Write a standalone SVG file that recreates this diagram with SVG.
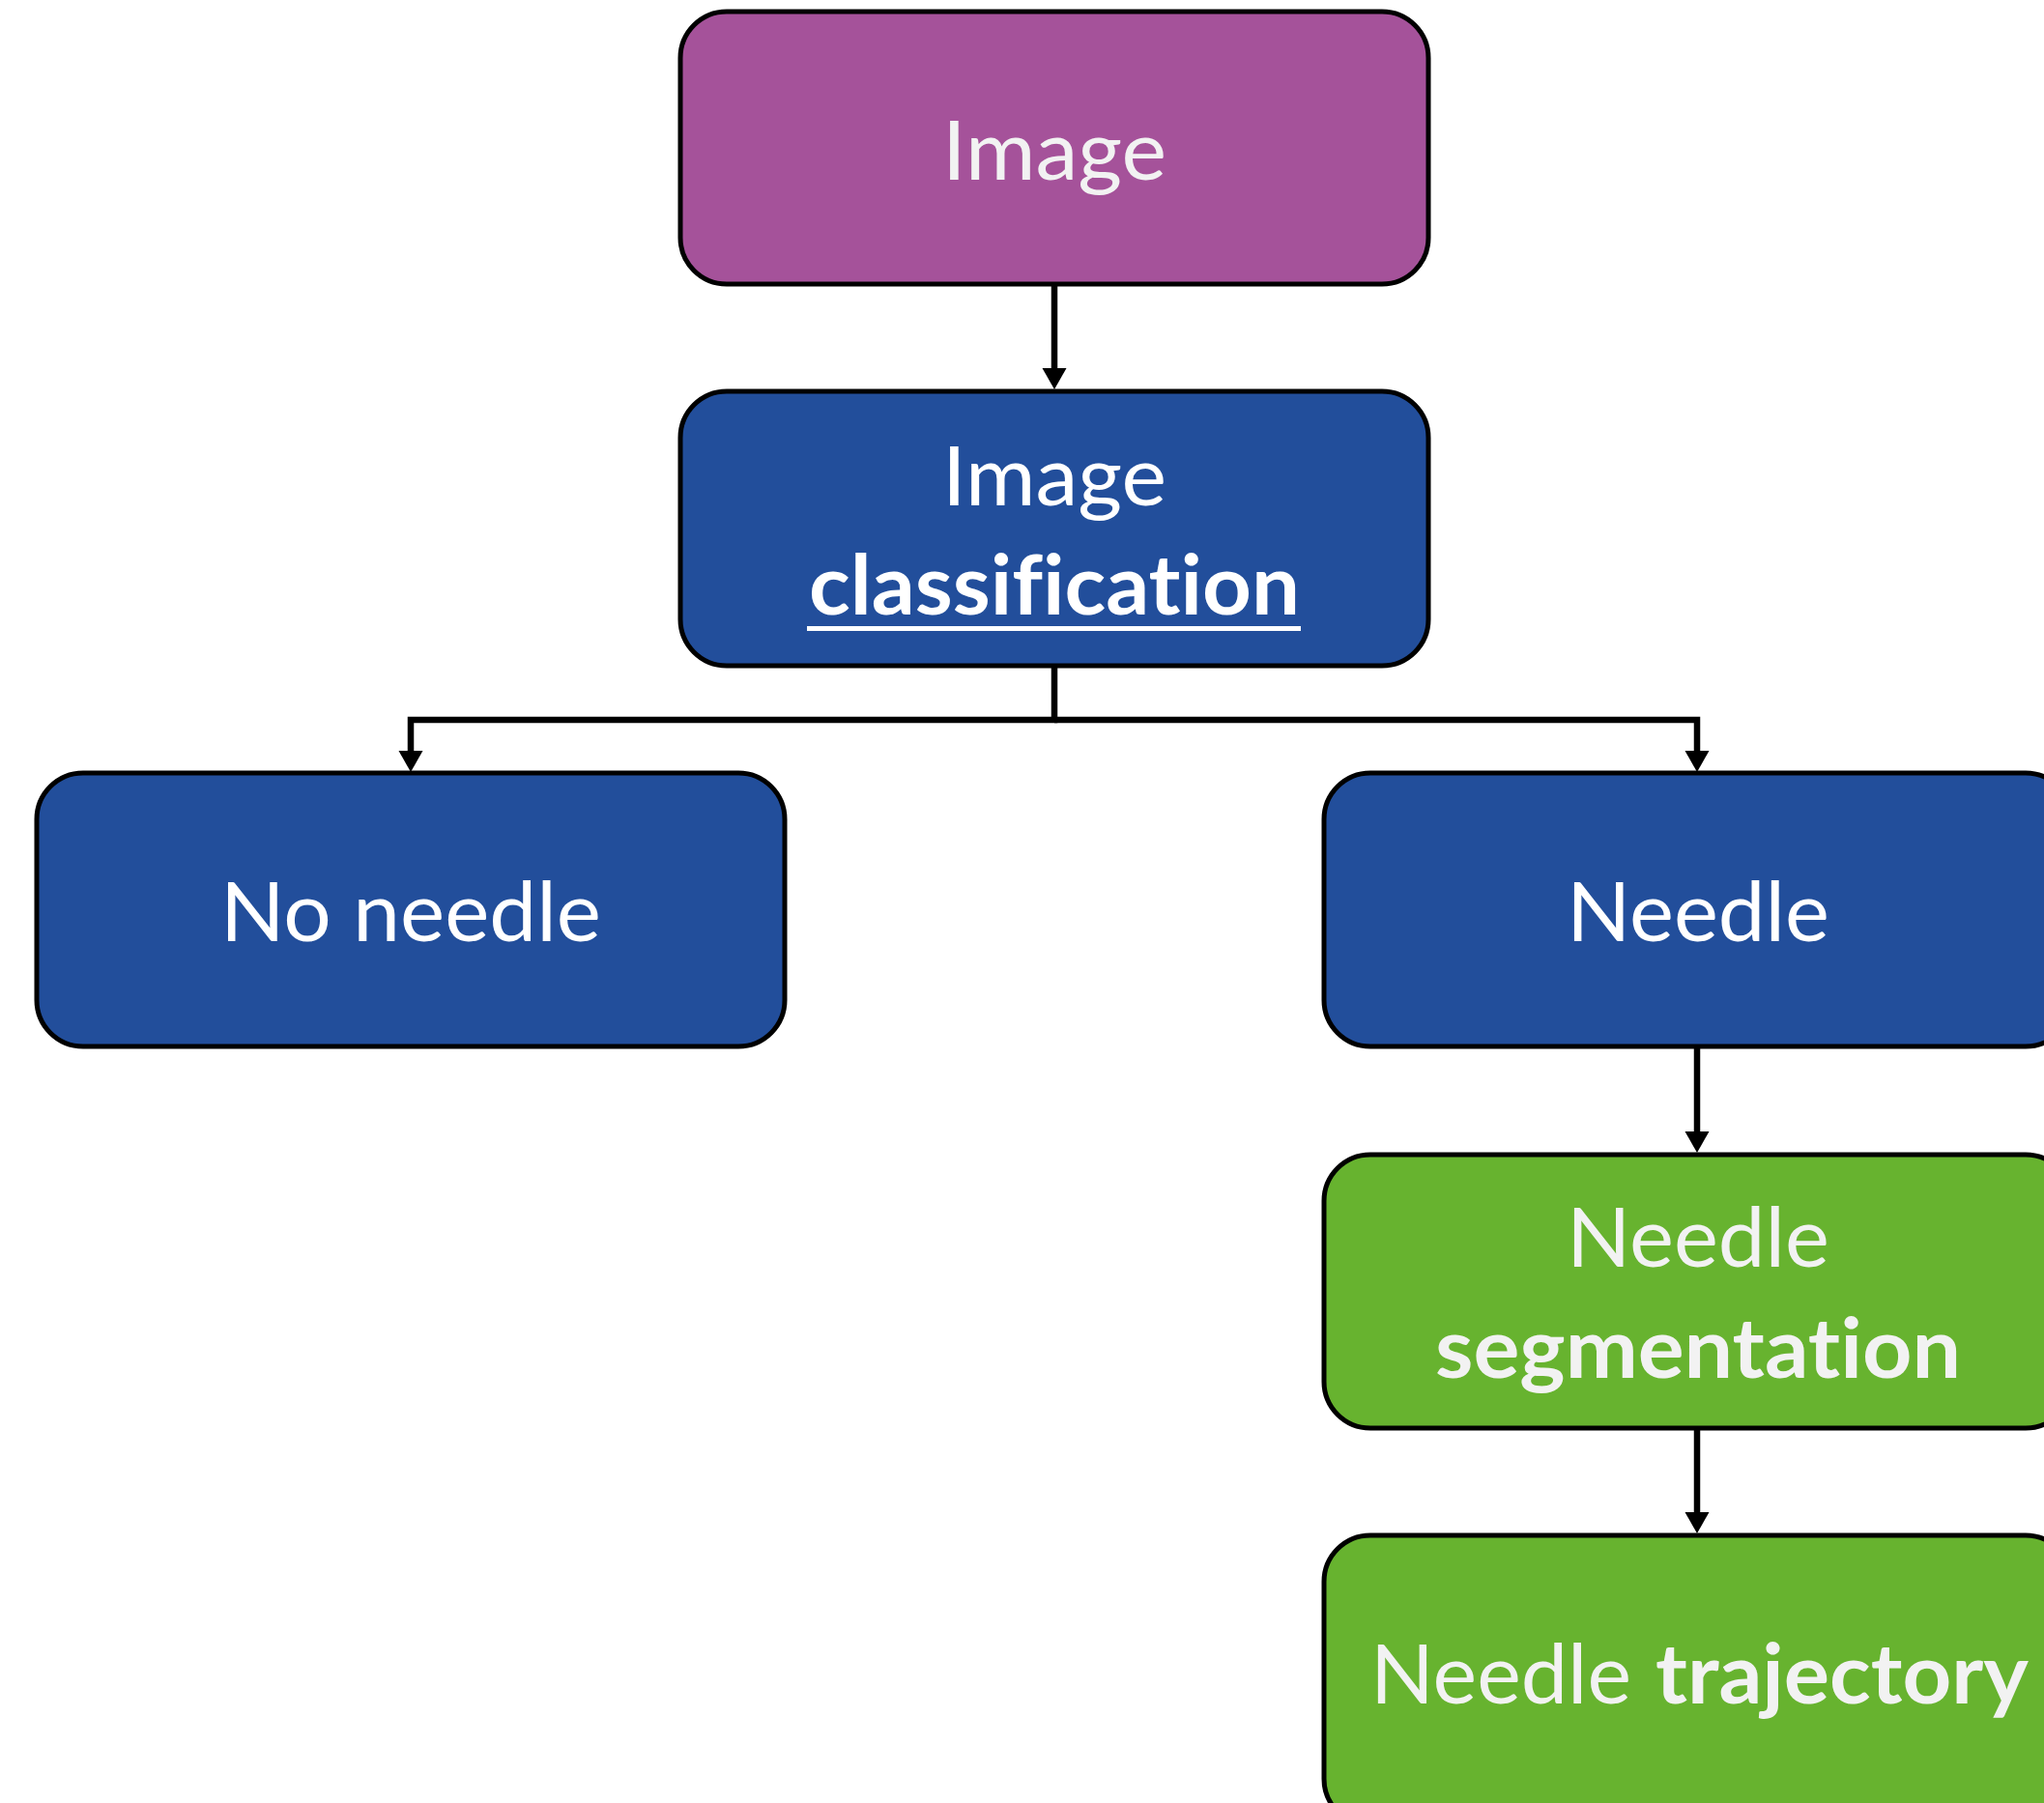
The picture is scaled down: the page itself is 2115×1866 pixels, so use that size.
<svg xmlns="http://www.w3.org/2000/svg" width="2115" height="1866" viewBox="0 0 2115 1866">
<style>
.box{stroke:#000;stroke-width:5}
.purple{fill:#A5529A}
.blue{fill:#224E9B}
.green{fill:#67B32F}
.t{font-family:Lato,"Open Sans","Liberation Sans",sans-serif;font-size:86px;text-anchor:middle;font-variant-ligatures:none;font-feature-settings:"liga" 0,"dlig" 0}
.w{fill:#FFFFFF}
.g{fill:#F2F2F2}
.b{font-weight:bold}
.con{fill:none;stroke:#000;stroke-width:6.5;stroke-linejoin:miter}
</style>
<defs>
<marker id="arr" markerUnits="userSpaceOnUse" markerWidth="24" markerHeight="26" refX="0" refY="12.5" orient="auto" viewBox="0 0 24 25">
<path d="M0,0 L22,12.5 L0,25 Z" fill="#000"/>
</marker>
</defs>
<rect width="2115" height="1866" fill="#FFFFFF"/>
<g id="connectors">
<path class="con" d="M1091,294 V381" marker-end="url(#arr)"/>
<path class="con" d="M1091,689 V745 H425 V777" marker-end="url(#arr)"/>
<path class="con" d="M1091,745 H1756 V777" marker-end="url(#arr)"/>
<path class="con" d="M1756,1083 V1171" marker-end="url(#arr)"/>
<path class="con" d="M1756,1478 V1565" marker-end="url(#arr)"/>
</g>
<g id="node-image">
<rect class="box purple" x="704" y="12" width="774" height="282" rx="48"/>
<text class="t g" x="1091" y="186" textLength="232" lengthAdjust="spacingAndGlyphs">Image</text>
</g>
<g id="node-classification">
<rect class="box blue" x="704" y="405" width="774" height="284" rx="48"/>
<text class="t w" x="1091" y="523" textLength="232" lengthAdjust="spacingAndGlyphs">Image</text>
<text class="t w b" x="1091" y="636" textLength="508" lengthAdjust="spacingAndGlyphs">classification</text>
<rect x="835" y="648" width="511" height="5" fill="#FFFFFF"/>
</g>
<g id="node-no-needle">
<rect class="box blue" x="38" y="800" width="774" height="283" rx="48"/>
<text class="t w" x="425" y="974" textLength="394" lengthAdjust="spacingAndGlyphs">No needle</text>
</g>
<g id="node-needle">
<rect class="box blue" x="1370" y="800" width="774" height="283" rx="48"/>
<text class="t w" x="1757" y="974" textLength="272" lengthAdjust="spacingAndGlyphs">Needle</text>
</g>
<g id="node-segmentation">
<rect class="box green" x="1370" y="1195" width="774" height="283" rx="48"/>
<text class="t g" x="1757" y="1311" textLength="272" lengthAdjust="spacingAndGlyphs">Needle</text>
<text class="t g b" x="1757" y="1426" textLength="544" lengthAdjust="spacingAndGlyphs">segmentation</text>
</g>
<g id="node-trajectory">
<rect class="box green" x="1370" y="1589" width="774" height="300" rx="48"/>
<text class="t g" style="text-anchor:start" y="1763"><tspan x="1418" textLength="270" lengthAdjust="spacingAndGlyphs">Needle</tspan><tspan class="b" x="1713" textLength="386" lengthAdjust="spacingAndGlyphs">trajectory</tspan></text>
</g>
</svg>
